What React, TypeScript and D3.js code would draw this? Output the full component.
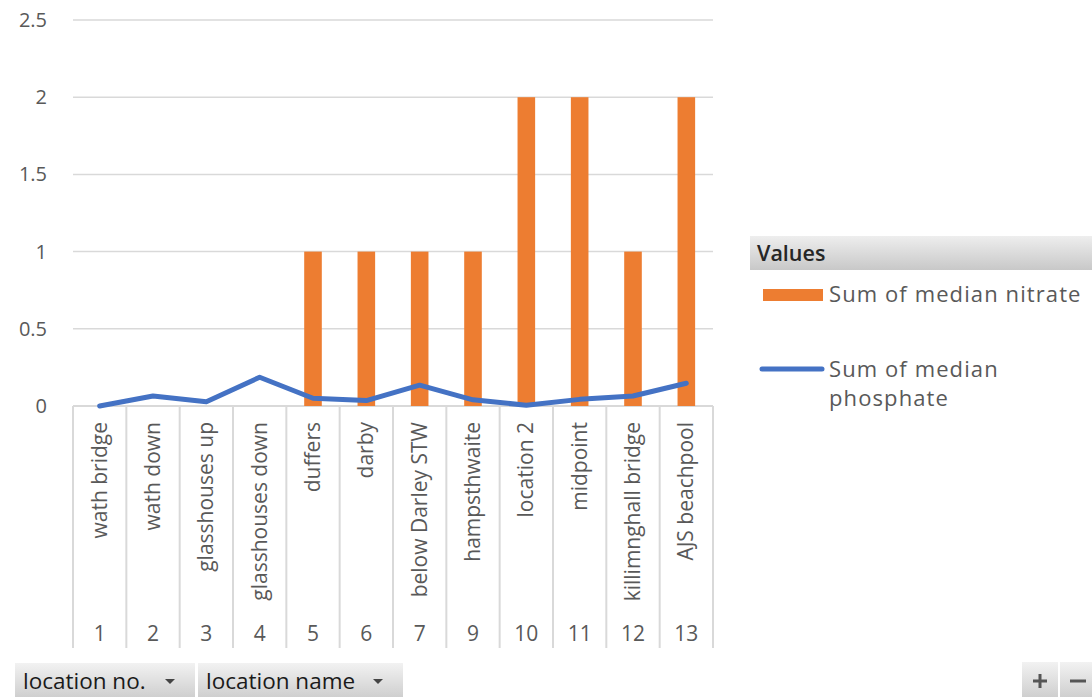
import React, { useEffect, useRef } from "react";
import * as d3 from "d3";

// pivot chart data
const locationNo = ["1", "2", "3", "4", "5", "6", "7", "9", "10", "11", "12", "13"];
const locationName = [
  "wath bridge",
  "wath down",
  "glasshouses up",
  "glasshouses down",
  "duffers",
  "darby",
  "below Darley STW",
  "hampsthwaite",
  "location 2",
  "midpoint",
  "killimnghall bridge",
  "AJS beachpool"
];
const nitrate = [0, 0, 0, 0, 1, 1, 1, 1, 2, 2, 1, 2];
const phosphate = [0, 0.065, 0.028, 0.186, 0.05, 0.035, 0.135, 0.04, 0.005, 0.043, 0.065, 0.147];
const yTicks = [0, 0.5, 1, 1.5, 2, 2.5];

const FONT = "'Open Sans', 'Noto Sans', sans-serif";
const ORANGE = "#ed7d31";
const BLUE = "#4472c4";
const GRAY = "#595959";

function App() {
  const svgRef = useRef<SVGSVGElement>(null);

  useEffect(() => {
    const svg = d3.select(svgRef.current);
    svg.selectAll("*").remove();

    const x = d3.scaleBand().domain(locationNo).range([73, 713]).padding(0);
    const y = d3.scaleLinear().domain([0, 2.5]).range([406, 20]);

    const defs = svg.append("defs");
    const grad = defs
      .append("linearGradient")
      .attr("id", "btn")
      .attr("x1", 0)
      .attr("y1", 0)
      .attr("x2", 0)
      .attr("y2", 1);
    grad.append("stop").attr("offset", "0%").attr("stop-color", "#f2f2f2");
    grad.append("stop").attr("offset", "100%").attr("stop-color", "#cfcfcf");
    const hgrad = defs
      .append("linearGradient")
      .attr("id", "hdr")
      .attr("x1", 0)
      .attr("y1", 0)
      .attr("x2", 0)
      .attr("y2", 1);
    hgrad.append("stop").attr("offset", "0%").attr("stop-color", "#eeeeee");
    hgrad.append("stop").attr("offset", "100%").attr("stop-color", "#c8c8c8");

    // gridlines + y labels
    const yAxis = svg.append("g").attr("class", "y-axis");
    yAxis
      .selectAll("line")
      .data(yTicks.filter(t => t > 0))
      .join("line")
      .attr("x1", 73)
      .attr("x2", 713)
      .attr("y1", d => y(d))
      .attr("y2", d => y(d))
      .attr("stroke", "#d9d9d9")
      .attr("stroke-width", 1.5);
    yAxis
      .selectAll("text")
      .data(yTicks)
      .join("text")
      .attr("x", 47)
      .attr("y", d => y(d))
      .attr("dy", "0.35em")
      .attr("text-anchor", "end")
      .attr("font-family", FONT)
      .attr("font-size", 20)
      .attr("fill", GRAY)
      .text(d => String(d));

    // category boxes
    const xAxis = svg.append("g").attr("class", "x-axis");
    xAxis
      .append("line")
      .attr("x1", 73)
      .attr("x2", 713)
      .attr("y1", y(0))
      .attr("y2", y(0))
      .attr("stroke", "#d9d9d9")
      .attr("stroke-width", 2);
    const edges = locationNo.map(d => x(d)!).concat([x.range()[1]]);
    xAxis
      .selectAll("line.sep")
      .data(edges)
      .join("line")
      .attr("class", "sep")
      .attr("x1", d => d)
      .attr("x2", d => d)
      .attr("y1", y(0))
      .attr("y2", 648)
      .attr("stroke", "#d9d9d9")
      .attr("stroke-width", 2);
    xAxis
      .selectAll("text.name")
      .data(locationNo)
      .join("text")
      .attr("class", "name")
      .attr("transform", d => `translate(${x(d)! + x.bandwidth() / 2 + 7}, 422) rotate(-90)`)
      .attr("text-anchor", "end")
      .attr("font-family", FONT)
      .attr("font-size", 21)
      .attr("fill", GRAY)
      .text((d, i) => locationName[i]);
    xAxis
      .selectAll("text.no")
      .data(locationNo)
      .join("text")
      .attr("class", "no")
      .attr("x", d => x(d)! + x.bandwidth() / 2)
      .attr("y", 641)
      .attr("text-anchor", "middle")
      .attr("font-family", FONT)
      .attr("font-size", 21)
      .attr("fill", GRAY)
      .text(d => d);

    // bars
    const bw = x.bandwidth() * 0.33;
    svg
      .append("g")
      .selectAll("rect")
      .data(nitrate)
      .join("rect")
      .attr("x", (d, i) => x(locationNo[i])! + x.bandwidth() / 2 - bw / 2)
      .attr("width", bw)
      .attr("y", d => y(d))
      .attr("height", d => y(0) - y(d))
      .attr("fill", ORANGE);

    // phosphate line
    const line = d3
      .line<number>()
      .x((d, i) => x(locationNo[i])! + x.bandwidth() / 2)
      .y(d => y(d));
    svg
      .append("path")
      .datum(phosphate)
      .attr("d", line)
      .attr("fill", "none")
      .attr("stroke", BLUE)
      .attr("stroke-width", 5)
      .attr("stroke-linejoin", "round")
      .attr("stroke-linecap", "round");

    // legend
    const lg = svg.append("g");
    lg.append("rect").attr("x", 750).attr("y", 236).attr("width", 342).attr("height", 34).attr("fill", "url(#hdr)");
    lg.append("text")
      .attr("x", 757)
      .attr("y", 261)
      .attr("font-family", FONT)
      .attr("font-size", 21.5)
      .attr("font-weight", 600)
      .attr("fill", "#262626")
      .text("Values");
    lg.append("rect").attr("x", 763).attr("y", 289).attr("width", 60).attr("height", 12).attr("fill", ORANGE);
    const legendText = (t: string, ty: number) =>
      lg.append("text")
        .attr("x", 829)
        .attr("y", ty)
        .attr("font-family", FONT)
        .attr("font-size", 22)
        .attr("letter-spacing", 1.1)
        .attr("fill", GRAY)
        .text(t);
    legendText("Sum of median nitrate", 302);
    lg.append("line")
      .attr("x1", 762)
      .attr("x2", 822)
      .attr("y1", 369)
      .attr("y2", 369)
      .attr("stroke", BLUE)
      .attr("stroke-width", 5)
      .attr("stroke-linecap", "round");
    legendText("Sum of median", 377);
    legendText("phosphate", 406);

    // field buttons
    const buttons = [
      { label: "location no.", x: 15, w: 180 },
      { label: "location name", x: 198, w: 205 }
    ];
    const bg = svg.append("g");
    buttons.forEach(b => {
      bg.append("rect").attr("x", b.x).attr("y", 663).attr("width", b.w).attr("height", 34).attr("fill", "url(#btn)");
      bg.append("text")
        .attr("x", b.x + 8)
        .attr("y", 689)
        .attr("font-family", FONT)
        .attr("font-size", 22.5)
        .attr("fill", "#1a1a1a")
        .text(b.label);
      const ax = b.x + b.w - 25;
      bg.append("path")
        .attr("d", `M${ax - 5},679 L${ax + 5},679 L${ax},684 Z`)
        .attr("fill", "#444");
    });
    bg.append("rect").attr("x", 1022).attr("y", 662).attr("width", 36).attr("height", 35).attr("fill", "url(#btn)");
    bg.append("rect").attr("x", 1060).attr("y", 662).attr("width", 32).attr("height", 35).attr("fill", "url(#btn)");
    bg.append("path").attr("d", "M1033,681 L1047,681 M1040,674 L1040,688").attr("stroke", "#555").attr("stroke-width", 3);
    bg.append("path").attr("d", "M1070,681 L1086,681").attr("stroke", "#555").attr("stroke-width", 3);
  }, []);

  return (
    <svg
      ref={svgRef}
      width={1092}
      height={697}
      style={{ position: "absolute", left: 0, top: 0, background: "#fff" }}
    />
  );
}

export default App;
